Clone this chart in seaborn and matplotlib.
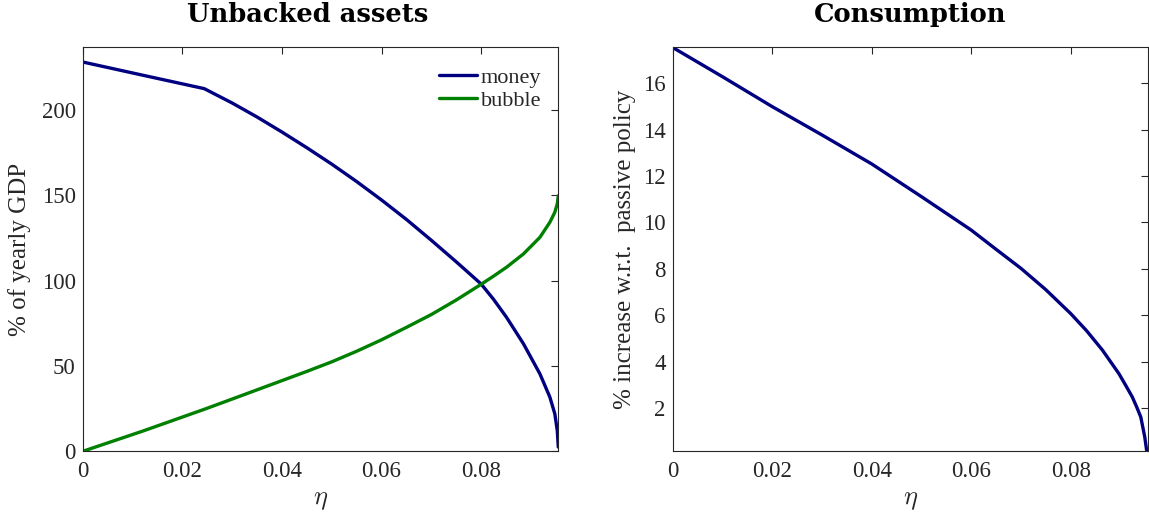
import matplotlib
matplotlib.use("Agg")
import matplotlib.pyplot as plt
import numpy as np
import pandas as pd
import seaborn as sns

# ---------------- data ----------------
eta_assets = [0.0, 0.012, 0.0244, 0.030, 0.035, 0.040, 0.045, 0.050, 0.055,
              0.060, 0.065, 0.070, 0.075, 0.080, 0.0825, 0.0851, 0.0885,
              0.0918, 0.0938, 0.0948, 0.0953, 0.0955]
money = [228.0, 220.3, 212.4, 204.0, 195.8, 187.0, 177.8, 168.2, 158.0,
         147.2, 135.8, 123.6, 111.0, 98.0, 89.0, 78.5, 63.0,
         45.4, 31.8, 22.0, 12.0, 2.5]
bubble = [0.0, 11.8, 24.6, 30.6, 36.0, 41.4, 46.8, 52.4, 58.6,
          65.3, 72.6, 80.1, 88.6, 97.8, 102.6, 107.8, 115.6,
          125.3, 134.1, 140.0, 145.0, 149.7]

eta_cons = [0.0, 0.01, 0.02, 0.03, 0.04, 0.05, 0.06, 0.065, 0.070, 0.075,
            0.08, 0.0832, 0.0864, 0.088, 0.0897, 0.091, 0.0924, 0.0933,
            0.0941, 0.0949, 0.0953]
consumption = [17.54, 16.28, 14.99, 13.77, 12.52, 11.11, 9.67, 8.84, 8.02, 7.10,
               6.07, 5.33, 4.49, 4.00, 3.48, 3.00, 2.47, 2.03,
               1.61, 0.75, 0.13]

x_ticks = [0, 0.02, 0.04, 0.06, 0.08]
x_tick_labels = ["0", "0.02", "0.04", "0.06", "0.08"]
left_yticks = [0, 50, 100, 150, 200]
right_yticks = [2, 4, 6, 8, 10, 12, 14, 16]

series_names = ["money", "bubble"]
titles = ["Unbacked assets", "Consumption"]
ylabels = ["% of yearly GDP", "% increase w.r.t.  passive policy"]

# ---------------- style ----------------
sns.set_theme(style="white")
plt.rcParams["font.family"] = ["Liberation Serif", "DejaVu Serif"]
plt.rcParams["mathtext.fontset"] = "cm"

navy = "#000080"
green = "#008000"
axcol = "#262626"

df_assets = pd.DataFrame({
    "eta": eta_assets * 2,
    "value": money + bubble,
    "series": [series_names[0]] * len(eta_assets) + [series_names[1]] * len(eta_assets),
})
df_cons = pd.DataFrame({"eta": eta_cons, "value": consumption})

fig = plt.figure(figsize=(11.49, 5.19), dpi=100)
ax1 = fig.add_axes([0.0720, 0.1304, 0.4139, 0.7781])
ax2 = fig.add_axes([0.5855, 0.1304, 0.4134, 0.7781])

sns.lineplot(data=df_assets, x="eta", y="value", hue="series",
             palette={"money": navy, "bubble": green}, linewidth=2.4,
             ax=ax1, legend=True)
sns.lineplot(data=df_cons, x="eta", y="value", color=navy, linewidth=2.4,
             ax=ax2, legend=False)

for ax in (ax1, ax2):
    ax.set_xlim(0, 0.0955)
    ax.set_xticks(x_ticks)
    ax.set_xticklabels(x_tick_labels)
    ax.tick_params(axis="both", direction="in", top=True, right=True,
                   length=5, width=0.8, color=axcol, labelcolor=axcol,
                   labelsize=16.5)
    ax.tick_params(axis="x", pad=7)
    ax.tick_params(axis="y", pad=5)
    for s in ax.spines.values():
        s.set_color(axcol)
        s.set_linewidth(0.8)
    ax.set_xlabel(r"$\eta$", fontsize=19, color=axcol)
    ax.xaxis.set_label_coords(0.5, -0.095)
    ax.grid(False)

ax1.set_ylim(0, 236.5)
ax1.set_yticks(left_yticks)
ax2.set_ylim(0.13, 17.54)
ax2.set_yticks(right_yticks)

ax1.set_ylabel(ylabels[0], fontsize=18, color=axcol)
ax1.yaxis.set_label_coords(-0.108, 0.5)
ax2.set_ylabel(ylabels[1], fontsize=18, color=axcol)
ax2.yaxis.set_label_coords(-0.078, 0.5)

title_font = dict(family="DejaVu Serif", weight="bold", size=18.5, color="black")
ax1.set_title(titles[0], fontdict=title_font, pad=18.5, x=0.473)
ax2.set_title(titles[1], fontdict=title_font, pad=18.5)

leg = ax1.legend(loc="upper left", bbox_to_anchor=(0.749, 0.95), frameon=False,
                 fontsize=16, handlelength=1.7, handletextpad=0.18,
                 labelspacing=0.1, borderpad=0, borderaxespad=0)
for line in leg.get_lines():
    line.set_linewidth(2.4)

fig.savefig("out.png", dpi=100)
